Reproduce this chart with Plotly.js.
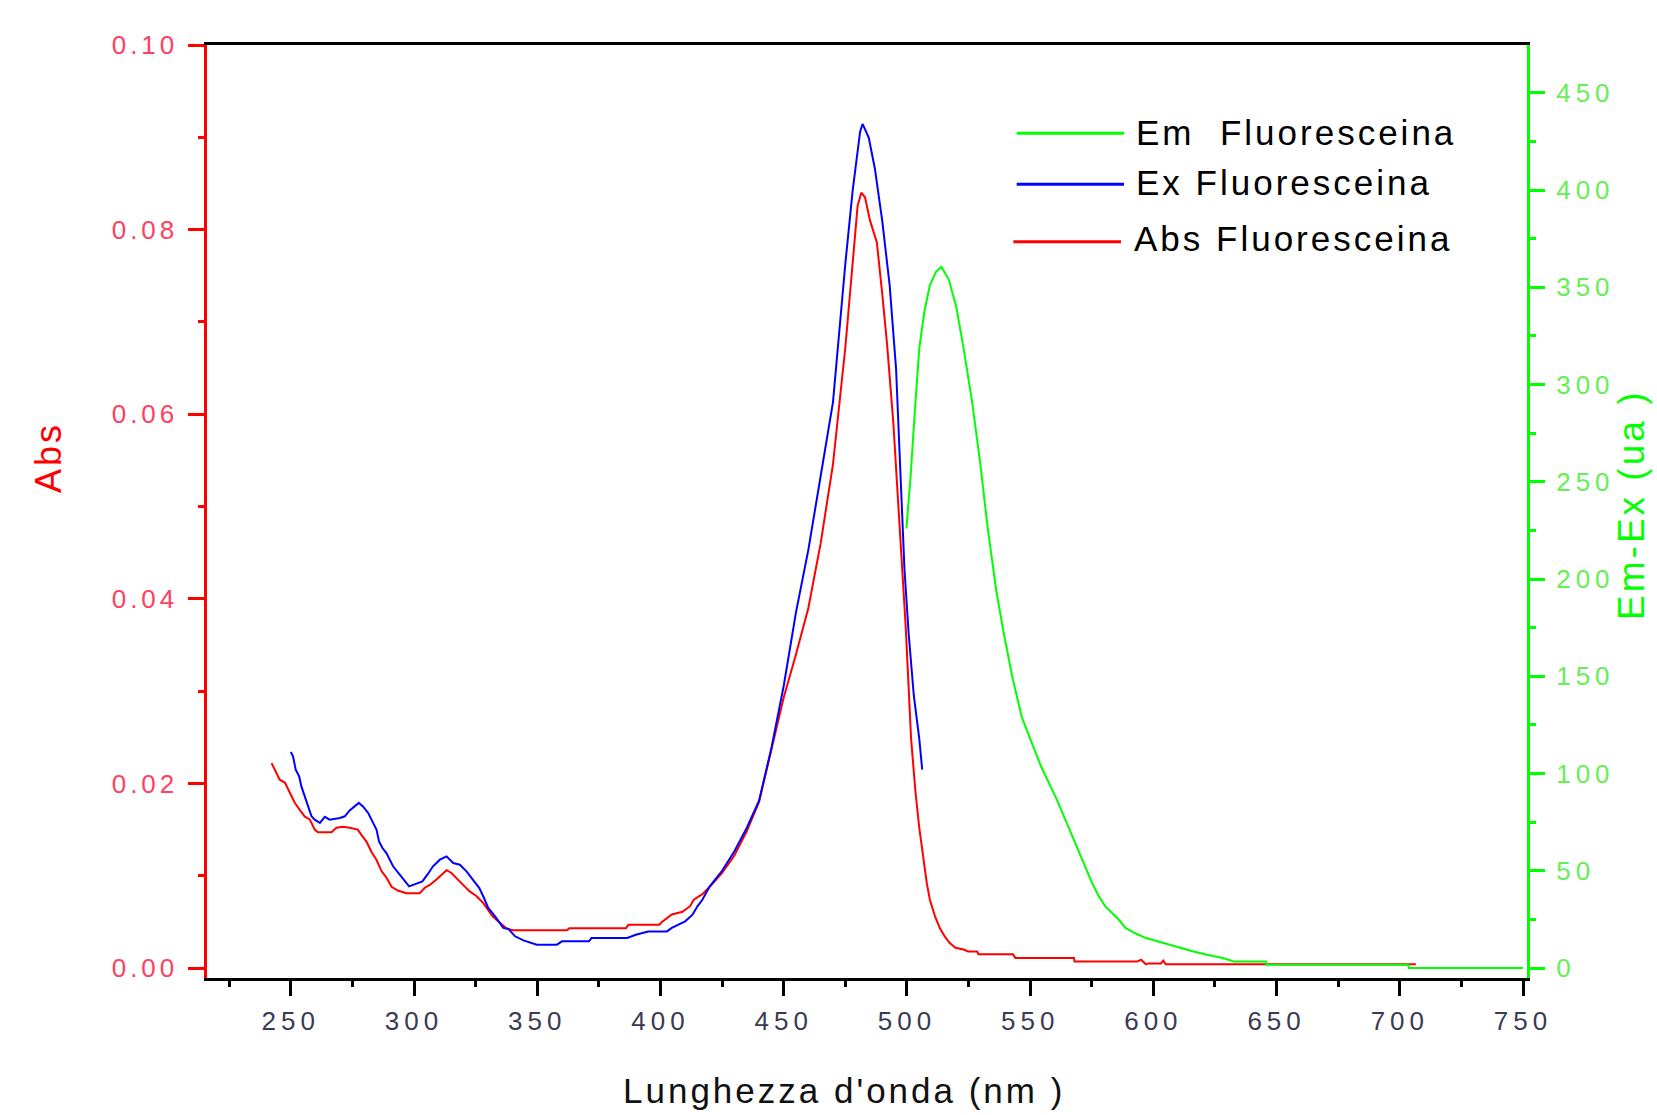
<!DOCTYPE html>
<html><head><meta charset="utf-8">
<script src="https://cdn.plot.ly/plotly-3.0.1.min.js"></script>
<style>
html,body{margin:0;padding:0;background:#fff;}
#chart{width:1657px;height:1115px;}
.xtick text, .y2tick text { letter-spacing:5px; }
.ytick text { letter-spacing:4px; }
.annotation-text { letter-spacing:3px; }
</style></head><body><div id="chart"></div>
<script>
// Abs Fluoresceina (left axis, Abs)
const absWl = [242.2,245.5,247.6,249.6,251.6,253.7,255.7,257.7,259.7,261.0,266.5,268.5,271.1,273.9,277.2,278.7,280.7,282.7,284.8,286.8,288.8,290.9,293.4,296.9,302.3,304.4,306.4,309.1,311.1,313.2,315.2,317.2,319.2,322.6,325.3,327.9,329.9,331.9,334.8,337.5,340.1,362,363,386,387,399.6,400.6,404.6,408.9,412,413.5,417,420,425,430,435,440,445,450,455,460,465,470,475,478,480,481.5,483,485,487.8,490,492,494.5,496.6,499.5,501.7,503.5,505,508,509.3,511.4,513.4,515.4,517.4,519.7,523,524.8,528.5,529,543,544,567.8,568,593.5,595,597,598,603,604,605,645.7,703.5,706.5];
const absVal = [0.0222,0.0204,0.0201,0.0190,0.0179,0.0171,0.0164,0.0161,0.0150,0.0147,0.0147,0.0152,0.0153,0.0152,0.0150,0.0144,0.0137,0.0126,0.0117,0.0105,0.0098,0.0088,0.0084,0.0081,0.0081,0.0087,0.0090,0.0096,0.0101,0.0106,0.0103,0.0098,0.0092,0.0083,0.0078,0.0071,0.0063,0.0056,0.0049,0.0043,0.0041,0.0041,0.0043,0.0043,0.0047,0.0047,0.0050,0.0058,0.0061,0.0067,0.0074,0.0080,0.0088,0.0103,0.0122,0.0148,0.0180,0.0235,0.0293,0.0340,0.0390,0.0460,0.0546,0.0672,0.0760,0.0826,0.0840,0.0835,0.0810,0.0786,0.0730,0.0674,0.0590,0.0500,0.0370,0.0248,0.0190,0.0152,0.0093,0.0074,0.0056,0.0043,0.0034,0.0027,0.0022,0.0020,0.0018,0.0018,0.0015,0.0015,0.0011,0.0011,0.0007,0.0007,0.0009,0.0004,0.0005,0.0005,0.0008,0.0004,0.0004,0.0004,0.0004];

// Ex Fluoresceina (right axis, Em-Ex)
const exWl = [250.0,250.9,252,253.4,254.3,255.7,257,258.4,259.7,261.8,263.8,265.8,269.9,271.9,273.9,276,277.6,279.3,281.4,283.1,284.8,285.8,287.2,288.8,290.2,291.5,294.2,296.3,298,301,303.4,305.7,307.7,310.5,313.2,315.9,318.6,321.3,324,326.5,328.4,330.1,332.9,336.2,338.3,341,344.4,349.8,358,360,371,372,386.5,390,395,402.6,404.6,410,413,415,417,420,425,430,435,440,445,450,455,460,465,470,475,478,481,482,484.5,487,490,493,495.6,497.3,499,500.7,502.8,505,506.2];
const exVal = [111.1,108.8,102,98.5,93.4,88.3,83.1,78,76.3,74.6,77.7,76.3,77.1,78,81,83.1,84.9,83.1,79.7,75.4,71.1,65.1,61.7,59.1,55.7,52.3,48,44.5,42,43.4,44.5,48.5,52.3,55.7,57.4,54,53.1,49.7,45.4,41.1,36,30.9,26.5,20.6,20.1,16.3,14.2,12,12,13.7,13.7,15.4,15.4,17.1,18.8,18.8,20.6,24,27.4,31.7,35.1,42,50,60,72,86,113,145,183,215,253,291,362,400,430,434,427,411,384,351,308,253,205,172,140,118,102];

// Em Fluoresceina (right axis, Em-Ex)
const emWl = [499.8,501.5,503.2,505,507.1,509.3,511.8,514,517,520,523,526.4,529.8,532.8,536.3,539.3,542.7,546.6,550,554.3,560.7,567.2,571.4,575,577.8,580.5,583.2,586,588.7,592.4,597,601.6,605.3,610.8,616.3,621.8,628.2,632.6,645.7,645.8,703.5,703.6,750];
const emVal = [226,253,286,318.6,337.7,351,358,360.5,354,340,318.6,291.5,258.9,226,193.6,172,150,129,118,104,87,68,55,44,37,31.7,28.3,24.8,20.6,18.0,15.4,13.7,12.3,10.3,8.5,6.8,5.1,3.4,3.4,1.7,1.7,0,0];

const seriesNames = ['Em  Fluoresceina','Ex Fluoresceina','Abs Fluoresceina'];
const seriesColors = ['#00ff00','#0000ff','#ff0000'];
const xTitle = "Lunghezza d'onda (nm )";
const yTitle = 'Abs';
const y2Title = 'Em-Ex (ua )';

const FONT = 'Liberation Sans, Arial, sans-serif';

const traces = [
  {x: absWl, y: absVal, type:'scatter', mode:'lines', name: seriesNames[2], line:{color:seriesColors[2], width:2}, yaxis:'y'},
  {x: exWl, y: exVal, type:'scatter', mode:'lines', name: seriesNames[1], line:{color:seriesColors[1], width:2}, yaxis:'y2'},
  {x: emWl, y: emVal, type:'scatter', mode:'lines', name: seriesNames[0], line:{color:seriesColors[0], width:2}, yaxis:'y2'}
];

// legend drawn as decoration (long sample lines as in the original)
const legY = [0.9054, 0.8507, 0.7892];
const legTextY = [0.9062, 0.8526, 0.7921];
const shapes = [];
const annotations = [];
for (let i = 0; i < 3; i++) {
  shapes.push({type:'line', xref:'paper', yref:'paper', x0: i===2?0.6109:0.6134, x1: i===2?0.6924:0.6947, y0: legY[i], y1: legY[i], line:{color:seriesColors[i], width:3}});
  annotations.push({xref:'paper', yref:'paper', x: i===2?0.7005:0.7022, y: legTextY[i], xanchor:'left', yanchor:'middle', align:'left', showarrow:false, text: seriesNames[i], font:{family:FONT, size:35, color:'#000'}});
}
annotations.push({xref:'paper', yref:'paper', x:0.4826, y:-0.1211, xanchor:'center', yanchor:'middle', showarrow:false, text:xTitle, font:{family:FONT, size:35, color:'#111'}});
annotations.push({xref:'paper', yref:'paper', x:-0.1205, y:0.5584, xanchor:'center', yanchor:'middle', textangle:-90, showarrow:false, text:yTitle, font:{family:FONT, size:36, color:'#ff0000'}});
annotations.push({xref:'paper', yref:'paper', x:1.0795, y:0.507, xanchor:'center', yanchor:'middle', textangle:-90, showarrow:false, text:y2Title, font:{family:FONT, size:37, color:'#00ff00'}});

const layout = {
  width:1657, height:1115,
  margin:{l:207, r:130, t:45, b:137, pad:0},
  paper_bgcolor:'#ffffff', plot_bgcolor:'#ffffff',
  showlegend:false,
  font:{family:FONT},
  xaxis:{range:[216,751.6], showgrid:false, zeroline:false, showline:true, linecolor:'#000', linewidth:3, mirror:true,
    ticks:'outside', ticklen:15, tickwidth:3, tickcolor:'#000', tick0:250, dtick:50,
    tickfont:{family:FONT, size:26, color:'#3a3a52'}, ticklabelstandoff:3,
    minor:{ticks:'outside', ticklen:6, tickwidth:3, tickcolor:'#000', tick0:225, dtick:25, showgrid:false}},
  yaxis:{range:[-0.00108,0.1], showgrid:false, zeroline:false, showline:true, linecolor:'#ff0000', linewidth:3.5,
    ticks:'outside', ticklen:16, tickwidth:3, tickcolor:'#ff0000', tick0:0, dtick:0.02, tickformat:'.2f',
    tickfont:{family:FONT, size:26, color:'#ff4060'}, ticklabelstandoff:4,
    minor:{ticks:'outside', ticklen:6, tickwidth:3, tickcolor:'#ff0000', tick0:0, dtick:0.01, showgrid:false}},
  yaxis2:{overlaying:'y', side:'right', anchor:'x', range:[-5.14,474.6], showgrid:false, zeroline:false, showline:true,
    linecolor:'#00ff00', linewidth:3, ticks:'outside', ticklen:15, tickwidth:3, tickcolor:'#00ff00', tick0:0, dtick:50,
    tickfont:{family:FONT, size:26, color:'#66ee55'}, ticklabelstandoff:6,
    minor:{ticks:'outside', ticklen:6, tickwidth:3, tickcolor:'#00ff00', tick0:0, dtick:25, showgrid:false}},
  shapes: shapes,
  annotations: annotations
};

Plotly.newPlot('chart', traces, layout, {displayModeBar:false, staticPlot:true});
</script></body></html>
